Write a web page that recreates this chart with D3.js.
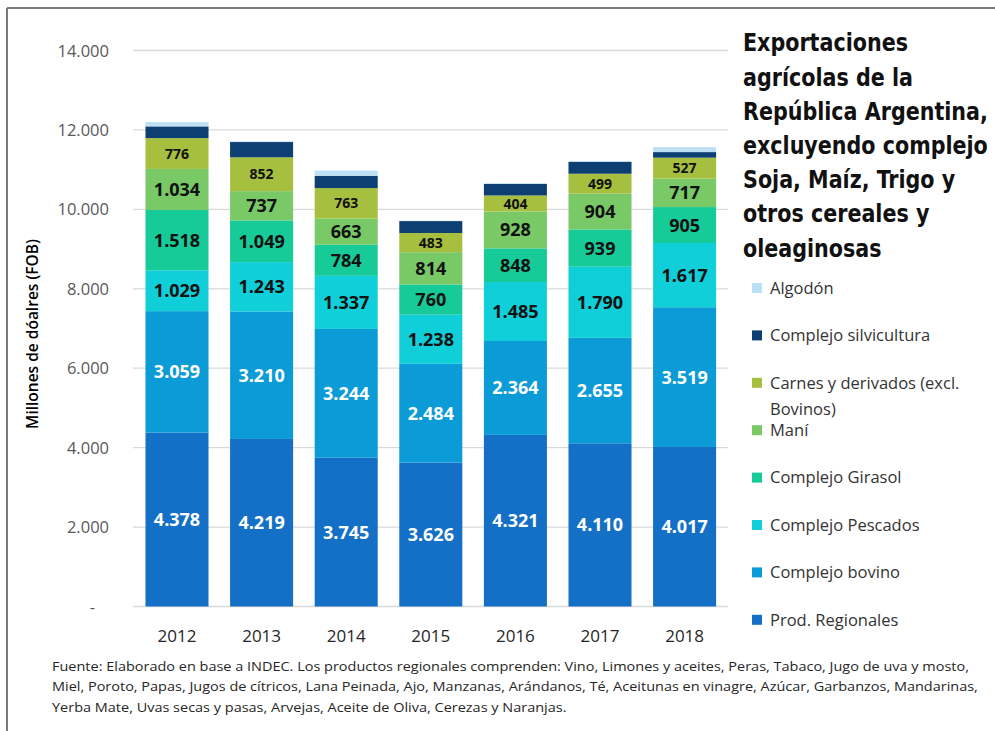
<!DOCTYPE html>
<html>
<head>
<meta charset="utf-8">
<script src="https://cdn.jsdelivr.net/npm/d3@7"></script>
<style>
  html, body { margin: 0; padding: 0; background: #fff; }
  svg { display: block; }
</style>
</head>
<body>
<svg id="chart" width="995" height="731"></svg>
<script>
// ---------- DATA ----------
const years = ["2012", "2013", "2014", "2015", "2016", "2017", "2018"];
const prodRegionales = [4378, 4219, 3745, 3626, 4321, 4110, 4017];
const complejoBovino = [3059, 3210, 3244, 2484, 2364, 2655, 3519];
const complejoPescados = [1029, 1243, 1337, 1238, 1485, 1790, 1617];
const complejoGirasol = [1518, 1049, 784, 760, 848, 939, 905];
const mani = [1034, 737, 663, 814, 928, 904, 717];
const carnes = [776, 852, 763, 483, 404, 499, 527];
const silvicultura = [295, 385, 310, 300, 290, 300, 140];
const algodon = [108, 20, 130, 10, 20, 20, 125];
const yTicks = [0, 2000, 4000, 6000, 8000, 10000, 12000, 14000];

const seriesNames = ["Prod. Regionales", "Complejo bovino", "Complejo Pescados", "Complejo Girasol", "Maní", "Carnes y derivados (excl. Bovinos)", "Complejo silvicultura", "Algodón"];
const seriesValues = [prodRegionales, complejoBovino, complejoPescados, complejoGirasol, mani, carnes, silvicultura, algodon];
const seriesColors = ["#1470c6", "#0b9bd6", "#10cfd9", "#17cb98", "#79c967", "#a6bf3e", "#0d3f73", "#bde0f4"];
const labelColors = ["#ffffff", "#ffffff", "#111", "#111", "#111", "#111", null, null];
const labelSizes = [18, 18, 18, 18, 18, 14, 0, 0];

const titleLines = ["Exportaciones", "agrícolas de la", "República Argentina,", "excluyendo complejo", "Soja, Maíz, Trigo y", "otros cereales y", "oleaginosas"];
const legendLines = [["Algodón"], ["Complejo silvicultura"], ["Carnes y derivados (excl.", "Bovinos)"], ["Maní"], ["Complejo Girasol"], ["Complejo Pescados"], ["Complejo bovino"], ["Prod. Regionales"]];
const legendColors = ["#bde0f4", "#0d3f73", "#a6bf3e", "#79c967", "#17cb98", "#10cfd9", "#0b9bd6", "#1470c6"];
const footLines = [
  "Fuente: Elaborado en base a INDEC. Los productos regionales comprenden: Vino, Limones y aceites, Peras, Tabaco, Jugo de uva y mosto,",
  "Miel, Poroto, Papas, Jugos de cítricos, Lana Peinada, Ajo, Manzanas, Arándanos, Té, Aceitunas en vinagre, Azúcar, Garbanzos, Mandarinas,",
  "Yerba Mate, Uvas secas y pasas, Arvejas, Aceite de Oliva, Cerezas y Naranjas."
];

// ---------- SETUP ----------
const svg = d3.select("#chart");
const font = "'Open Sans', 'Noto Sans', sans-serif";
const loc = d3.formatLocale({decimal: ",", thousands: ".", grouping: [3], currency: ["$", ""]});
const fmt = loc.format(",.0f");

const table = years.map((y, i) => {
  const row = {year: y};
  seriesNames.forEach((s, k) => row[s] = seriesValues[k][i]);
  return row;
});
const stack = d3.stack().keys(seriesNames)(table);

const x = d3.scaleBand().domain(years).range([134.7, 726.9]).paddingInner(0.255).paddingOuter(0.1275);
const y = d3.scaleLinear().domain([0, 14000]).range([606.5, 50.5]);

// frame
svg.append("line").attr("x1", 7).attr("x2", 995).attr("y1", 8).attr("y2", 8).attr("stroke", "#7a7a7a").attr("stroke-width", 2);
svg.append("line").attr("x1", 7).attr("x2", 7).attr("y1", 8).attr("y2", 731).attr("stroke", "#7a7a7a").attr("stroke-width", 2);

// gridlines
svg.append("g").selectAll("line").data(yTicks).join("line")
  .attr("x1", 133).attr("x2", 728)
  .attr("y1", d => y(d)).attr("y2", d => y(d))
  .attr("stroke", "#d9d9d9").attr("stroke-width", 1.3);

// y axis labels
const yAxis = d3.axisLeft(y).tickValues(yTicks).tickSize(0).tickPadding(0)
  .tickFormat(d => d === 0 ? "-" : fmt(d));
const gy = svg.append("g").attr("transform", "translate(109,0)").call(yAxis);
gy.select(".domain").remove();
gy.selectAll("text").attr("font-family", font).attr("font-size", 16.5).attr("fill", "#595959")
  .attr("dy", "0.34em");
gy.selectAll(".tick").filter(d => d === 0).select("text").attr("dx", -14);

// bars
const layers = svg.append("g").selectAll("g").data(stack).join("g")
  .attr("fill", (d, i) => seriesColors[i]);
layers.selectAll("rect").data(d => d).join("rect")
  .attr("x", d => x(d.data.year))
  .attr("width", x.bandwidth())
  .attr("y", d => y(d[1]))
  .attr("height", d => y(d[0]) - y(d[1]));

// data labels
stack.forEach((layer, i) => {
  if (!labelColors[i]) return;
  svg.append("g").selectAll("text").data(layer).join("text")
    .attr("x", d => x(d.data.year) + x.bandwidth() / 2)
    .attr("y", d => y((d[0] + d[1]) / 2))
    .attr("dy", "0.36em")
    .attr("text-anchor", "middle")
    .attr("font-family", font).attr("font-weight", 700)
    .attr("font-size", labelSizes[i])
    .attr("fill", labelColors[i])
    .text(d => fmt(d[1] - d[0]));
});

// x axis
const xAxis = d3.axisBottom(x).tickSize(0).tickPadding(0);
const gx = svg.append("g").attr("transform", "translate(0,636)").call(xAxis);
gx.select(".domain").remove();
gx.selectAll("text").attr("font-family", font).attr("font-size", 17).attr("fill", "#262626").attr("dy", "0.35em");

// y title
svg.append("text")
  .attr("transform", "translate(38,334) rotate(-90)")
  .attr("text-anchor", "middle")
  .attr("font-family", font).attr("font-size", 15.5).attr("font-weight", 600)
  .attr("fill", "#000")
  .text("Millones de dóalres (FOB)");

// title
const tg = svg.append("g");
const tt = tg.append("text")
  .attr("font-family", "'DejaVu Sans Condensed', 'DejaVu Sans', sans-serif")
  .attr("font-weight", 700).attr("font-size", 24.5).attr("fill", "#111");
titleLines.forEach((l, i) => tt.append("tspan").attr("x", 0).attr("y", 51.5 + i * 34.2).text(l));
let maxW = 0;
tt.selectAll("tspan").each(function() { maxW = Math.max(maxW, this.getComputedTextLength()); });
tg.attr("transform", `translate(743,0) scale(${245 / maxW},1)`);

// legend
const lg = svg.append("g");
legendLines.forEach((lines, i) => {
  const yy = 288 + i * 47.4;
  lg.append("rect").attr("x", 752).attr("y", yy - 5).attr("width", 10).attr("height", 10).attr("fill", legendColors[i]);
  const t = lg.append("text").attr("font-family", font).attr("font-size", 16.5).attr("fill", "#333");
  lines.forEach((l, j) => t.append("tspan").attr("x", 770).attr("y", yy + j * 26).attr("dy", "0.35em").text(l));
});

// footnote
const fg = svg.append("g");
const ft = fg.append("text").attr("font-family", font).attr("font-size", 12.5).attr("fill", "#262626");
footLines.forEach((l, i) => ft.append("tspan").attr("x", 0).attr("y", 671 + i * 20.5).text(l));
const w0 = ft.select("tspan").node().getComputedTextLength();
fg.attr("transform", `translate(52,0) scale(${918 / w0},1)`);
</script>
</body>
</html>
